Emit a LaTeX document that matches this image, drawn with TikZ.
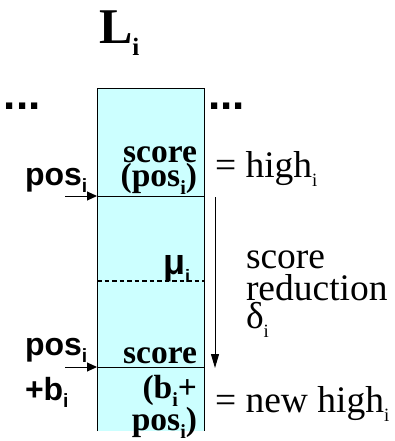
\documentclass[tikz,border=0pt]{standalone}
\usepackage{fontspec}
\setmainfont{Liberation Serif}
\setsansfont{Liberation Sans}
\usetikzlibrary{arrows.meta}
\definecolor{boxfill}{RGB}{204,255,255}
\newcommand\sbi[2][0.6]{\raisebox{-0.24em}{\scalebox{#1}{#2}}}
\tikzset{
  txt/.style={inner sep=0pt, outer sep=0pt},
  sfb/.style={txt, font=\sffamily\bfseries\fontsize{32}{32}\selectfont},
  rmb/.style={txt, font=\rmfamily\bfseries\fontsize{33.5}{33.5}\selectfont},
  rm/.style={txt, font=\rmfamily\fontsize{37.5}{37.5}\selectfont},
  dots/.style={txt, font=\sffamily\bfseries\fontsize{44}{44}\selectfont},
  edge/.style={line width=1pt, black},
  inarrow/.style={line width=1pt, -{Triangle[length=10pt,width=9pt]}},
  downarrow/.style={line width=1pt, -{Triangle[length=14pt,width=8pt]}}
}
\begin{document}
\begin{tikzpicture}[x=1pt,y=-1pt]
\useasboundingbox (0,0) rectangle (395,441);
% column
\fill[boxfill] (97,89) rectangle (204,431);
\draw[edge] (97,431) -- (97,89) -- (204,89) -- (204,431);
\coordinate (l1) at (97,196);
\coordinate (r1) at (204,196);
\coordinate (l2) at (97,367);
\coordinate (r2) at (204,367);
\draw[edge] (l1) -- (r1);
\draw[edge] (l2) -- (r2);
\coordinate (ml) at (97,281);
\coordinate (mr) at (204,281);
\draw[edge, line width=1.3pt, dash pattern=on 4.5pt off 3pt] (ml) -- (mr);
% title and dots
\node[txt, font=\rmfamily\bfseries\fontsize{50}{50}\selectfont, anchor=base west] (title) at (99,44) {L\sbi[0.5]{i}};
\node[dots, anchor=base west] (dl) at (4,110) {...};
\node[dots, anchor=base west] (dr) at (208,110) {...};
% left labels
\node[sfb, anchor=base west] (p1) at (25,185) {pos\sbi{i}};
\node[sfb, anchor=base west] (p2) at (25,355) {pos\sbi{i}};
\node[sfb, anchor=base west] (p3) at (25,400) {+b\sbi{i}};
\coordinate (a1) at (65,196);
\coordinate (a2) at (65,367);
\draw[inarrow] (a1) -- (l1);
\draw[inarrow] (a2) -- (l2);
% inside labels
\node[rmb, anchor=base east] (s1) at (197,162) {score};
\node[rmb, anchor=base east] (s2) at (197,186) {(pos\sbi{i})};
\node[txt, font=\sffamily\bfseries\fontsize{36}{36}\selectfont, anchor=base west] (mu) at (163,274) {μ\sbi[0.5]{i}};
\node[rmb, anchor=base east] (s3) at (197,363) {score};
\node[rmb, anchor=base east] (s4) at (197,398) {(b\sbi{i}+};
\node[rmb, anchor=base east] (s5) at (197,430) {pos\sbi{i})};
% right labels
\node[rm, anchor=base west] (h1) at (215,177) {= high\sbi[0.5]{i}};
\node[rm, anchor=base west] (h2) at (215,412) {= new high\sbi[0.5]{i}};
\node[rm, anchor=base west] (r1t) at (246,268) {score};
\node[rm, anchor=base west] (r2t) at (246,300) {reduction};
\node[rm, anchor=base west] (r3t) at (246,328) {δ\sbi[0.5]{i}};
\coordinate (v1) at (215,197);
\coordinate (v2) at (215,368);
\draw[downarrow] (v1) -- (v2);
\end{tikzpicture}
\end{document}
